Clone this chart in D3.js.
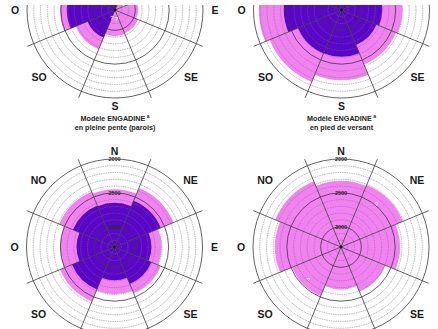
<!DOCTYPE html>
<html>
<head>
<meta charset="utf-8">
<script src="https://cdn.jsdelivr.net/npm/d3@7"></script>
<style>
  html, body { margin: 0; padding: 0; background: #fff; }
  svg { display: block; }
</style>
</head>
<body>
<svg id="chart" width="438" height="329"></svg>
<script>
// Exposition sectors, clockwise from north
const sectors = ["N", "NE", "E", "SE", "S", "SO", "O", "NO"];

// Altitude rings (m) and the labelled ones
const ringAltitudes = [2000, 2100, 2200, 2300, 2400, 2500, 2600, 2700, 2800, 2900, 3000, 3100, 3200];
const altitudeLabels = [2000, 2500, 3000];

// Lower limit of probable (dark) and possible (light) permafrost, by sector (m)
// null = no probable permafrost in that sector
const pleinePenteProbable = [2600, null, null, null, null, 2860, 2590, 2590];
const pleinePentePossible = [2480, 2970, 2960, 2930, 2915, 2670, 2490, 2490];

const piedVersantProbable = [2450, 2550, 2700, 2740, 2610, 2605, 2450, 2450];
const piedVersantPossible = [2100, 2250, 2405, 2430, 2265, 2150, 2080, 2080];

const chartCProbable = [2650, 2560, 2755, 2710, 2810, 2620, 2740, 2635];
const chartCPossible = [2450, 2355, 2605, 2560, 2605, 2430, 2500, 2415];

const chartDProbable = [null, null, null, null, null, null, null, null];
const chartDPossible = [2325, 2310, 2430, 2590, 2675, 2515, 2325, 2250];

// Uncertainty marks ("?") drawn inside the light areas: [direction deg, altitude]
const pleinePenteMarks = [[60, 3150], [170, 3170], [200, 3170]];
const chartDMarks = [[40, 2480], [225, 2620]];

const charts = [
  { cx: 115,   cy: 10,  probable: pleinePenteProbable, possible: pleinePentePossible, marks: pleinePenteMarks,
    title: ["Modèle ENGADINE", "en pleine pente (parois)"] },
  { cx: 341.5, cy: 10,  probable: piedVersantProbable, possible: piedVersantPossible, marks: [],
    title: ["Modèle ENGADINE", "en pied de versant"] },
  { cx: 114.5, cy: 247, probable: chartCProbable, possible: chartCPossible, marks: [], title: null },
  { cx: 341,   cy: 247, probable: chartDProbable, possible: chartDPossible, marks: chartDMarks, title: null }
];

const DARK = "#5a06c9";
const LIGHT = "#f282f2";
const FONT = "Liberation Sans, Arial, sans-serif";
const W = 438, H = 329, TOP = 5;

const svg = d3.select("#chart");

svg.append("defs").append("clipPath").attr("id", "page")
  .append("rect").attr("x", 0).attr("y", TOP).attr("width", W).attr("height", H - TOP);

const root = svg.append("g").attr("clip-path", "url(#page)");

const r = d3.scaleLinear().domain([3300, 2000]).range([0, 88]);
const rad = Math.PI / 180;
const sectorWidth = 360 / sectors.length;

// label anchor for each exposition (cardinal on the axis, diagonals pushed toward horizontal)
function dirPos(i) {
  const ang = i * sectorWidth;
  if (i % 2 === 1) {
    const sx = Math.sign(Math.sin(ang * rad)), sy = Math.sign(-Math.cos(ang * rad));
    return [76 * sx, 67 * sy];
  }
  const rr = i % 4 === 0 ? 96 : 100;
  return [rr * Math.sin(ang * rad), -rr * Math.cos(ang * rad)];
}

charts.forEach(ch => {
  const g = root.append("g").attr("transform", `translate(${ch.cx},${ch.cy})`);
  // only texts whose anchor lies inside the page are drawn
  const inFrame = (x, y) => ch.cy + y > 2 && ch.cx + x < W - 4 && ch.cy + y < H;

  const wedge = d3.arc()
    .innerRadius(0)
    .startAngle((d, i) => (i * sectorWidth - sectorWidth / 2) * rad)
    .endAngle((d, i) => (i * sectorWidth + sectorWidth / 2) * rad);

  // possible permafrost (light)
  g.selectAll("path.possible").data(ch.possible).join("path")
    .attr("class", "possible")
    .attr("fill", LIGHT)
    .attr("d", (d, i) => d == null ? null : wedge.outerRadius(r(d))(d, i));

  // probable permafrost (dark)
  g.selectAll("path.probable").data(ch.probable).join("path")
    .attr("class", "probable")
    .attr("fill", DARK)
    .attr("d", (d, i) => d == null ? null : wedge.outerRadius(r(d))(d, i));

  // altitude rings
  g.selectAll("circle.ring").data(ringAltitudes).join("circle")
    .attr("class", "ring")
    .attr("r", d => r(d))
    .attr("fill", "none")
    .attr("stroke", d => d % 500 === 0 ? "#3a3a3a" : "#707070")
    .attr("stroke-width", d => d % 500 === 0 ? 0.8 : 0.6)
    .attr("stroke-dasharray", d => d % 500 === 0 ? null : "1,0.8");

  // sector boundaries
  g.selectAll("line.spoke").data(sectors).join("line")
    .attr("class", "spoke")
    .attr("x1", 0).attr("y1", 0)
    .attr("x2", (d, i) => 95 * Math.sin((i * sectorWidth + sectorWidth / 2) * rad))
    .attr("y2", (d, i) => -95 * Math.cos((i * sectorWidth + sectorWidth / 2) * rad))
    .attr("stroke", "#3c3c3c")
    .attr("stroke-width", 0.8);

  g.append("circle").attr("r", 1.4).attr("fill", "#111");

  // altitude labels along north axis
  g.selectAll("text.alt").data(altitudeLabels.filter(d => inFrame(0, -r(d) - 3))).join("text")
    .attr("class", "alt")
    .attr("x", 0)
    .attr("y", d => -r(d) + 2)
    .attr("text-anchor", "middle")
    .attr("font-family", FONT)
    .attr("font-size", 5.5)
    .attr("font-weight", "bold")
    .attr("fill", "#2a2a2a")
    .text(d => d);

  // uncertainty marks
  g.selectAll("text.mark").data(ch.marks).join("text")
    .attr("class", "mark")
    .attr("x", d => r(d[1]) * Math.sin(d[0] * rad))
    .attr("y", d => -r(d[1]) * Math.cos(d[0] * rad) + 2)
    .attr("text-anchor", "middle")
    .attr("font-family", FONT)
    .attr("font-size", 6)
    .attr("fill", "#fff")
    .text("?");

  // exposition labels
  const dirs = sectors.map((s, i) => ({ s, p: dirPos(i) })).filter(d => inFrame(d.p[0], d.p[1] - 4));
  g.selectAll("text.dir").data(dirs).join("text")
    .attr("class", "dir")
    .attr("x", d => d.p[0])
    .attr("y", d => d.p[1])
    .attr("dy", "0.36em")
    .attr("text-anchor", "middle")
    .attr("font-family", FONT)
    .attr("font-size", 10.5)
    .attr("font-weight", "bold")
    .attr("fill", "#1a1a1a")
    .text(d => d.s);

  if (ch.title) {
    const t = g.append("text")
      .attr("text-anchor", "middle")
      .attr("font-family", FONT)
      .attr("font-size", 7.2)
      .attr("font-weight", "bold")
      .attr("fill", "#222");
    const l1 = t.append("tspan").attr("x", 0).attr("y", 110.5);
    l1.append("tspan").text(ch.title[0]);
    l1.append("tspan").attr("font-size", 5).attr("dy", -3).text(" a");
    t.append("tspan").attr("x", 0).attr("y", 119.5).text(ch.title[1]);
  }
});
</script>
</body>
</html>
